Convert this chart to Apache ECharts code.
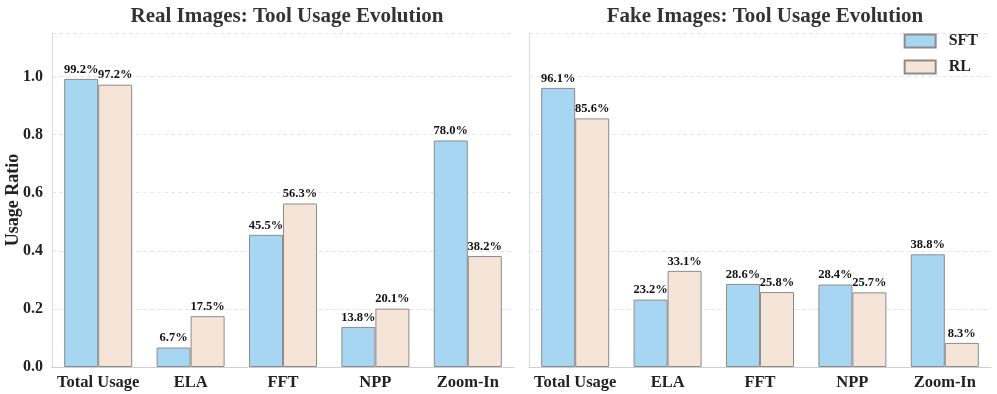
<!DOCTYPE html>
<html>
<head>
<meta charset="utf-8">
<script src="https://cdn.jsdelivr.net/npm/echarts@6/dist/echarts.min.js"></script>
<style>
  html, body { margin: 0; padding: 0; background: #fff; }
  #chart { width: 997px; height: 394px; }
</style>
</head>
<body>
<div id="chart"></div>
<script>
const categories = ['Total Usage', 'ELA', 'FFT', 'NPP', 'Zoom-In']
const yTicks = [0, 0.2, 0.4, 0.6, 0.8, 1.0]
const realSft = [0.992, 0.067, 0.455, 0.138, 0.780]
const realRl = [0.972, 0.175, 0.563, 0.201, 0.382]
const fakeSft = [0.961, 0.232, 0.286, 0.284, 0.388]
const fakeRl = [0.856, 0.331, 0.258, 0.257, 0.083]

const FONT = '"Liberation Serif", "DejaVu Serif", serif'
const SFT_COLOR = '#a6d6f1'
const RL_COLOR = '#f5e4d8'
const EDGE = '#8c8c8c'

const chart = echarts.init(document.getElementById('chart'))

const valueLabel = {
  show: true,
  position: 'top',
  distance: 3,
  fontFamily: FONT,
  fontWeight: 'bold',
  fontSize: 12.5,
  color: '#111',
  formatter: p => (p.value * 100).toFixed(1) + '%'
}

const xAxisFor = (gridIndex) => ({
  type: 'category',
  gridIndex,
  data: categories,
  axisLine: { lineStyle: { color: '#cfcfcf', width: 1 } },
  axisTick: { show: false },
  axisLabel: { interval: 0, fontFamily: FONT, fontWeight: 'bold', fontSize: 16.5, color: '#222', margin: 7 }
})

const yAxisFor = (gridIndex, showLabels) => ({
  type: 'value',
  gridIndex,
  min: 0,
  max: 1.15,
  interval: 0.2,
  name: showLabels ? 'Usage Ratio' : '',
  nameLocation: 'middle',
  nameGap: 30,
  nameMoveOverlap: false,
  nameTextStyle: { fontFamily: FONT, fontWeight: 'bold', fontSize: 18, color: '#222' },
  axisLine: { show: true, lineStyle: { color: '#d9d9d9', width: 1 } },
  axisTick: { show: false },
  axisLabel: {
    show: showLabels,
    fontFamily: FONT, fontWeight: 'bold', fontSize: 16, color: '#222', margin: 9,
    formatter: v => yTicks.some(t => Math.abs(t - v) < 1e-9) ? v.toFixed(1) : ''
  },
  splitLine: { lineStyle: { color: '#e6e6e6', type: [4, 3], width: 1 } }
})

const barSeries = (name, data, color, idx) => ({
  name,
  type: 'bar',
  xAxisIndex: idx,
  yAxisIndex: idx,
  data,
  barWidth: 34,
  barGap: '0%',
  itemStyle: { color, borderColor: EDGE, borderWidth: 1 },
  label: valueLabel
})

chart.setOption({
  animation: false,
  title: [
    { text: 'Real Images: Tool Usage Evolution', left: 282, top: 1, textAlign: 'center',
      textStyle: { fontFamily: FONT, fontWeight: 'bold', fontSize: 21, color: '#333' } },
    { text: 'Fake Images: Tool Usage Evolution', left: 760, top: 1, textAlign: 'center',
      textStyle: { fontFamily: FONT, fontWeight: 'bold', fontSize: 21, color: '#333' } }
  ],
  legend: {
    orient: 'vertical',
    right: 14,
    top: 28,
    itemWidth: 31,
    itemHeight: 13,
    itemGap: 10,
    icon: 'rect',
    data: ['SFT', 'RL'],
    textStyle: { fontFamily: FONT, fontWeight: 'bold', fontSize: 16, color: '#222', padding: [0, 0, 0, 8] }
  },
  grid: [
    { left: 52, width: 462, top: 33, bottom: 27 },
    { left: 529, width: 462, top: 33, bottom: 27 }
  ],
  xAxis: [xAxisFor(0), xAxisFor(1)],
  yAxis: [yAxisFor(0, true), yAxisFor(1, false)],
  series: [
    barSeries('SFT', realSft, SFT_COLOR, 0),
    barSeries('RL', realRl, RL_COLOR, 0),
    barSeries('SFT', fakeSft, SFT_COLOR, 1),
    barSeries('RL', fakeRl, RL_COLOR, 1)
  ]
})
</script>
</body>
</html>
